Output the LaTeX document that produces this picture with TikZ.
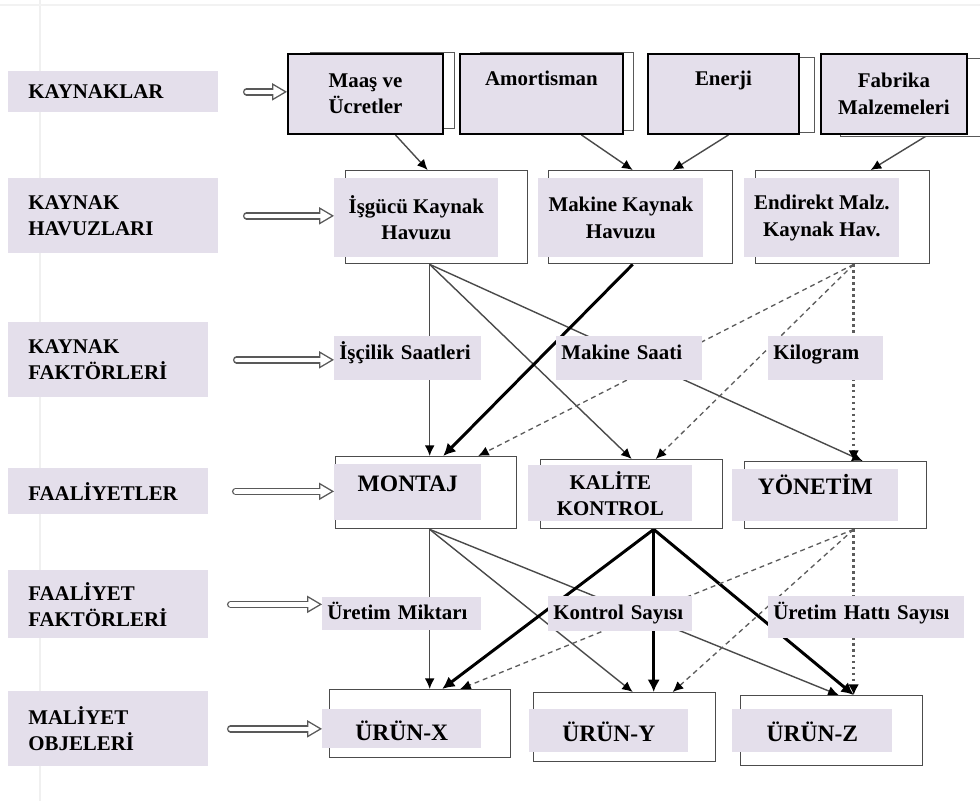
\documentclass[tikz,border=0pt]{standalone}
\usepackage{fontspec}
\setmainfont{Liberation Serif}
\usepackage{tikz}
\usetikzlibrary{arrows.meta, backgrounds}

\definecolor{lav}{HTML}{E4DFEB}
\definecolor{edge}{HTML}{4A4A4A}
\definecolor{dashgray}{HTML}{5C5C5C}

\tikzset{
    every node/.style = {inner sep = 0pt, font = {\bfseries\fontsize{11.9}{15}\selectfont}},
    big/.style = {font = {\bfseries\fontsize{13.4}{16}\selectfont}},
    wh/.style 2 args = {minimum width = #1, minimum height = #2},
    hd/.style 2 args = {text height = #1, text depth = #2},
    sidebox/.style = {fill = lav, anchor = north west, align = left, inner xsep = 0.4cm, text width = #1},
    srcbox/.style = {fill = lav, draw = black, line width = 1.1pt, anchor = north west, align = center},
    srcback/.style = {fill = white, draw = gray!70!black, line width = 0.8pt, anchor = north west},
    boxframe/.style = {fill = white, draw = gray!60!black, line width = 0.8pt, anchor = north west},
    fillbox/.style = {fill = lav, anchor = north west, align = center},
    factorbox/.style = {fill = lav, anchor = north west, align = left, inner xsep = 0.1cm, text width = #1},
    link/.style = {draw = edge, line width = 0.8pt, -{Latex[length = 6pt, width = 5.5pt, color = black]}},
    heavy/.style = {draw = black, line width = 1.7pt, -{Latex[length = 7pt, width = 7pt]}},
    dashlink/.style = {draw = dashgray, line width = 0.75pt, dash pattern = on 2.8pt off 2.2pt, -{Latex[length = 6pt, width = 5.5pt, color = black]}},
    dotlink/.style = {draw = dashgray, line width = 1.4pt, dash pattern = on 1.5pt off 1.9pt, -{Latex[length = 6pt, width = 6pt, color = black]}},
    hollowout/.style = {draw = gray!70!black, line width = 4.2pt, line cap = round, -{Triangle[length = 8.5pt, width = 10pt, line width = 0pt]}},
    hollowin/.style = {draw = white, line width = 2.6pt, line cap = round, shorten > = 1.6pt, -{Triangle[length = 6.1pt, width = 7.2pt, line width = 0pt]}}
}

\newcommand\hollowarrow[2]{\draw[hollowout] #1 -- #2; \draw[hollowin] #1 -- #2;}

\begin{document}
\begin{tikzpicture}[x = 0.02cm, y = -0.02cm]
        \useasboundingbox (0, 0) rectangle (980, 801);
        \clip (0, 0) rectangle (980, 801);

        \node[sidebox = 3.4cm, minimum height = 0.82cm] (kaynak) at (8, 71) {KAYNAKLAR};
        \node[sidebox = 3.4cm, minimum height = 1.5cm] (havuz) at (8, 178) {KAYNAK\\HAVUZLARI};
        \node[sidebox = 3.2cm, minimum height = 1.5cm] (kfaktor) at (8, 322) {KAYNAK\\FAKTÖRLERİ};
        \node[sidebox = 3.2cm, minimum height = 0.92cm] (faal) at (8, 468) {FAALİYETLER};
        \node[sidebox = 3.2cm, minimum height = 1.36cm] (ffaktor) at (8, 570) {FAALİYET\\FAKTÖRLERİ};
        \node[sidebox = 3.2cm, minimum height = 1.5cm] (obje) at (8, 691) {MALİYET\\OBJELERİ};

        \node[srcback, wh = {2.88cm}{1.52cm}] (maasb) at (310, 52) {};
        \node[srcback, wh = {3.06cm}{1.56cm}] (amortb) at (480, 52) {};
        \node[srcback, wh = {2.98cm}{1.5cm}] (enerjib) at (665, 57) {};
        \node[srcback, wh = {3.6cm}{1.56cm}] (fabrikab) at (840, 58) {};
        \node[srcbox, wh = {3.1cm}{1.6cm}] (maas) at (287, 53) {Maaş ve\\Ücretler};
        \node[srcbox, minimum width = 3.26cm, hd = {0.64cm}{0.96cm}] (amort) at (459, 53) {Amortisman};
        \node[srcbox, minimum width = 3.02cm, hd = {0.64cm}{0.96cm}] (enerji) at (647, 53) {Enerji};
        \node[srcbox, wh = {2.92cm}{1.6cm}] (fabrika) at (820, 53) {Fabrika\\Malzemeleri};

        \node[boxframe, wh = {3.64cm}{1.86cm}] (iframe) at (345, 170) {};
        \node[boxframe, wh = {3.68cm}{1.86cm}] (mframe) at (548, 170) {};
        \node[boxframe, wh = {3.48cm}{1.86cm}] (eframe) at (755, 170) {};
        \node[fillbox, wh = {3.28cm}{1.58cm}] (ihavuz) at (334, 178) {İşgücü Kaynak\\Havuzu};
        \node[fillbox, wh = {3.3cm}{1.58cm}] (mhavuz) at (538, 178) {Makine Kaynak\\Havuzu};
        \node[fillbox, wh = {3.1cm}{1.58cm}] (ehavuz) at (744, 178) {Endirekt Malz.\\Kaynak Hav.};

        \node[factorbox = 2.74cm, hd = {0.46cm}{0.42cm}] (iscilik) at (334, 336) {İşçilik Saatleri};
        \node[factorbox = 2.72cm, hd = {0.46cm}{0.42cm}] (msaat) at (556, 336) {Makine Saati};
        \node[factorbox = 2.1cm, hd = {0.46cm}{0.42cm}] (kilo) at (768, 336) {Kilogram};

        \node[boxframe, wh = {3.62cm}{1.44cm}] (montajf) at (335, 456) {};
        \node[boxframe, wh = {3.64cm}{1.38cm}] (kalitef) at (540, 459) {};
        \node[boxframe, wh = {3.64cm}{1.34cm}] (yonetimf) at (744, 461) {};
        \node[fillbox, big, minimum width = 2.94cm, hd = {0.54cm}{0.58cm}] (montaj) at (334, 464) {MONTAJ};
        \node[fillbox, wh = {3.28cm}{1.12cm}] (kalite) at (528, 465) {KALİTE\\KONTROL};
        \node[fillbox, big, minimum width = 3.32cm, hd = {0.5cm}{0.54cm}] (yonetim) at (732, 469) {YÖNETİM};

        \node[factorbox = 2.98cm, hd = {0.44cm}{0.22cm}] (miktar) at (322, 597) {Üretim Miktarı};
        \node[factorbox = 2.68cm, hd = {0.46cm}{0.24cm}] (kontrol) at (548, 596) {Kontrol Sayısı};
        \node[factorbox = 3.72cm, hd = {0.46cm}{0.38cm}] (hat) at (768, 596) {Üretim Hattı Sayısı};

        \node[boxframe, wh = {3.62cm}{1.36cm}] (xf) at (329, 689) {};
        \node[boxframe, wh = {3.64cm}{1.38cm}] (yf) at (533, 692) {};
        \node[boxframe, wh = {3.64cm}{1.4cm}] (zf) at (740, 695) {};
        \node[fillbox, big, minimum width = 3.18cm, hd = {0.62cm}{0.16cm}] (urunx) at (322, 709) {ÜRÜN-X};
        \node[fillbox, big, minimum width = 3.18cm, hd = {0.64cm}{0.22cm}] (uruny) at (529, 709) {ÜRÜN-Y};
        \node[fillbox, big, minimum width = 3.2cm, hd = {0.64cm}{0.22cm}] (urunz) at (732, 709) {ÜRÜN-Z};

        \begin{scope}[on background layer]
        \draw[gray!12, line width = 1.5pt] (40, 0) -- (40, 801);
        \draw[gray!10, line width = 1pt] (0, 5) -- (980, 5);

        \hollowarrow{([xshift = 0.56cm]kaynak.east)}{(kaynak.east -| maas.west)}
        \hollowarrow{([xshift = 0.56cm]havuz.east)}{(havuz.east -| ihavuz.west)}
        \hollowarrow{([xshift = 0.56cm]kfaktor.east)}{(kfaktor.east -| iscilik.west)}
        \hollowarrow{([xshift = 0.54cm]faal.east)}{(faal.east -| montaj.west)}
        \hollowarrow{([xshift = 0.44cm]ffaktor.east)}{(ffaktor.east -| miktar.west)}
        \hollowarrow{([xshift = 0.44cm]obje.east)}{(obje.east -| urunx.west)}

        \draw[link] ([shift = {(30, 0)}]maas.south) -- ([shift = {(-9, 0)}]iframe.north);
        \draw[link] ([shift = {(40, 0)}]amort.south) -- ([shift = {(-8, 0)}]mframe.north);
        \draw[link] ([shift = {(5, 0)}]enerji.south) -- ([shift = {(32, 0)}]mframe.north);
        \draw[link] ([shift = {(34, 0)}]fabrika.south) -- ([shift = {(28, 0)}]eframe.north);

        \draw[link] ([shift = {(-7, 0)}]iframe.south) -- ([shift = {(-7, 0)}]iframe.south |- montajf.north);
        \draw[link] ([shift = {(-7, 0)}]iframe.south) -- (kalitef.north);
        \draw[link] ([shift = {(-7, 0)}]iframe.south) -- ([shift = {(27, 0)}]yonetimf.north);
        \draw[heavy] ([shift = {(-8, 0)}]mframe.south) -- ([shift = {(17, 0)}]montajf.north);
        \draw[dashlink] ([shift = {(11, 0)}]eframe.south) -- ([shift = {(52, 0)}]montajf.north);
        \draw[dashlink] ([shift = {(11, 0)}]eframe.south) -- ([shift = {(24, 0)}]kalitef.north);
        \draw[dotlink] ([shift = {(11, 0)}]eframe.south) -- ([shift = {(11, 0)}]eframe.south |- yonetimf.north);

        \draw[link] ([shift = {(3.5, 0)}]montajf.south) -- ([shift = {(3.5, 0)}]montajf.south |- xf.north);
        \draw[link] ([shift = {(3.5, 0)}]montajf.south) -- ([shift = {(8, 0)}]yf.north);
        \draw[link] ([shift = {(3.5, 0)}]montajf.south) -- ([shift = {(7, 0)}]zf.north);
        \draw[heavy] ([shift = {(22, 0)}]kalitef.south) -- ([shift = {(22, 0)}]xf.north);
        \draw[heavy] ([shift = {(22, 0)}]kalitef.south) -- ([shift = {(22, 0)}]kalitef.south |- yf.north);
        \draw[heavy] ([shift = {(22, 0)}]kalitef.south) -- ([shift = {(22, 0)}]zf.north);
        \draw[dashlink] ([shift = {(18, 0)}]yonetimf.south) -- ([shift = {(40, 0)}]xf.north);
        \draw[dashlink] ([shift = {(18, 0)}]yonetimf.south) -- ([shift = {(48, 0)}]yf.north);
        \draw[dotlink] ([shift = {(18, 0)}]yonetimf.south) -- ([shift = {(18, 0)}]yonetimf.south |- zf.north);
        \end{scope}
\end{tikzpicture}
\end{document}
